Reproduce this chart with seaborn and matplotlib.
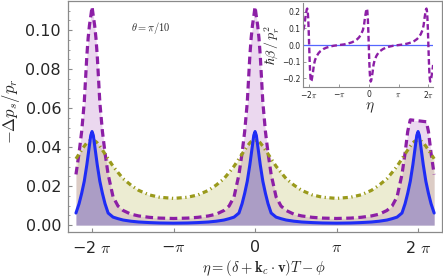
import numpy as np
import matplotlib
matplotlib.use("Agg")
import matplotlib.pyplot as plt
import seaborn as sns
from matplotlib.ticker import AutoMinorLocator

dist = [0, 0.05, 0.1, 0.15, 0.2, 0.3, 0.4, 0.5, 0.62, 0.81, 1.0, 1.2, 1.5, 1.8, 2.2, 2.6, np.pi]

# -dp_s/p_r read at those distances (same on both sides of every peak)
blue_vals = [0.048, 0.046, 0.041, 0.036, 0.031, 0.0225, 0.0163, 0.011, 0.0062, 0.0041,
             0.0033, 0.0026, 0.0020, 0.0016, 0.0013, 0.0011, 0.0010]
purple_vals = [0.112, 0.107, 0.1025, 0.096, 0.087, 0.063, 0.048, 0.037, 0.026, 0.0145,
               0.0098, 0.0075, 0.0056, 0.0047, 0.0040, 0.0036, 0.0034]
olive_vals = [0.0435, 0.0434, 0.0432, 0.0428, 0.0422, 0.0405, 0.0385, 0.0365, 0.034, 0.0302,
              0.027, 0.0238, 0.0205, 0.0178, 0.0155, 0.0143, 0.0137]

# the purple peak at 2 pi is cut flat in the original (undersampled)
purple_top_dist = [-0.3, 0.32]
purple_top_vals = [0.054, 0.053]

# inset: hbar beta / p_r^2, positive left of a peak, negative right of it
inset_dist = [0, 0.05, 0.1, 0.15, 0.2, 0.25, 0.3, 0.4, 0.5, 0.62, 0.81, 1.0, 1.2, 1.5, 1.8, 2.2, 2.6, np.pi]
inset_vals = [0, 0.09, 0.16, 0.205, 0.22, 0.215, 0.2, 0.165, 0.12, 0.09, 0.065, 0.048,
              0.036, 0.024, 0.016, 0.009, 0.004, 0]

peaks = [-2 * np.pi, 0, 2 * np.pi]
tick_pos = [-2 * np.pi, -np.pi, 0, np.pi, 2 * np.pi]
tick_lab = ["\u22122 $\\pi$", "\u2212$\\pi$", "0", "$\\pi$", "2 $\\pi$"]
tick_lab_in = ["\u22122$\\pi$", "\u2212$\\pi$", "0", "$\\pi$", "2$\\pi$"]


def build(d, v, left_end, right_end, odd=False):
    d = np.asarray(d)
    v = np.asarray(v)
    fd = np.concatenate([-d[::-1], d[1:]])
    fv = np.concatenate([v[::-1], (-v if odd else v)[1:]])
    xs, ys = [], []
    for i, p in enumerate(peaks):
        keep = np.ones(len(fd), bool)
        if i > 0:
            keep[0] = False
        if i == 0:
            keep &= fd >= -left_end
        if i == len(peaks) - 1:
            keep &= fd <= right_end
        xs.append(p + fd[keep])
        ys.append(fv[keep])
    return np.concatenate(xs), np.concatenate(ys)


eta_b, y_b = build(dist, blue_vals, 0.62, 0.62)
eta_o, y_o = build(dist, olive_vals, 0.62, 0.62)
eta_p, y_p = build(dist, purple_vals, 0.62, 0.62)
# flatten purple top at 2 pi
cut = np.abs(eta_p - 2 * np.pi) <= 0.3
eta_p = np.concatenate([eta_p[~cut], 2 * np.pi + np.array(purple_top_dist)])
y_p = np.concatenate([y_p[~cut], purple_top_vals])
order = np.argsort(eta_p)
eta_p, y_p = eta_p[order], y_p[order]

eta_i, y_i = build(inset_dist, inset_vals, 0.66, 0.5, odd=True)

sns.set_style("ticks")
plt.rcParams["mathtext.fontset"] = "cm"
plt.rcParams["font.family"] = ["DejaVu Sans"]

c_blue = "#1f2cf5"
c_purple = "#8c1fa6"
c_olive = "#9a9a1c"
grey = "#8a8a8a"

fig = plt.figure(figsize=(4.43, 2.79), dpi=100)
ax = fig.add_axes([0.1535, 0.168, 0.8445, 0.828])

ax.fill_between(eta_p, 0, y_p, color="#9b3fb0", alpha=0.2, lw=0)
ax.fill_between(eta_o, 0, y_o, color="#a0a020", alpha=0.2, lw=0)
ax.fill_between(eta_b, 0, y_b, color="#3a32c8", alpha=0.3, lw=0)

sns.lineplot(x=eta_p, y=y_p, ax=ax, color=c_purple, lw=2.3, sort=False,
             estimator=None, linestyle=(0, (2.4, 1.4)))
sns.lineplot(x=eta_o, y=y_o, ax=ax, color=c_olive, lw=2.3, sort=False,
             estimator=None, linestyle=(0, (1.6, 1.1, 0.4, 1.1)))
sns.lineplot(x=eta_b, y=y_b, ax=ax, color=c_blue, lw=2.2, sort=False, estimator=None)

ax.set_xlim(-7.21, 7.21)
ax.set_ylim(-0.0036, 0.1149)
ax.set_xticks(tick_pos)
ax.set_xticklabels(tick_lab)
ax.set_yticks([0, 0.02, 0.04, 0.06, 0.08, 0.10])
ax.set_yticklabels(["0.00", "0.02", "0.04", "0.06", "0.08", "0.10"])
ax.yaxis.set_minor_locator(AutoMinorLocator(4))
ax.tick_params(direction="in", length=3, width=0.8, color=grey, labelsize=11.5, pad=5)
ax.tick_params(which="minor", direction="in", length=1.6, width=0.6, color=grey)
ax.tick_params(axis="x", pad=6)
for s in ax.spines.values():
    s.set_color(grey)
    s.set_linewidth(0.9)
ax.set_xlabel("")
ax.set_ylabel("")

fig.text(0.025, 0.6, r"$-\Delta p_s/p_r$", rotation=90, ha="center", va="center", fontsize=12)
fig.text(0.596, 0.04, r"$\eta = (\delta + \mathbf{k}_c\cdot\mathbf{v})T - \phi$",
         ha="center", va="center", fontsize=10.5)
fig.text(0.341, 0.9, r"$\theta = \pi/10$", ha="center", va="center", fontsize=7.5)

# inset
ax_in = fig.add_axes([0.684, 0.688, 0.293, 0.301])
ax_in.patch.set_alpha(0)
ax_in.axhline(0, color="#5566ff", lw=0.9)
sns.lineplot(x=eta_i, y=y_i, ax=ax_in, color=c_purple, lw=1.7, sort=False,
             estimator=None, linestyle=(0, (2.4, 1.3)))
ax_in.set_xlim(-6.93, 6.75)
ax_in.set_ylim(-0.253, 0.253)
ax_in.set_xticks(tick_pos)
ax_in.set_xticklabels(tick_lab_in)
ax_in.set_yticks([-0.2, -0.1, 0, 0.1, 0.2])
ax_in.set_yticklabels(["\u22120.2", "\u22120.1", "0.0", "0.1", "0.2"])
ax_in.tick_params(direction="in", length=2, width=0.6, color=grey, labelsize=5.5, pad=2)
ax_in.spines["top"].set_visible(False)
ax_in.spines["right"].set_visible(False)
for s in ["left", "bottom"]:
    ax_in.spines[s].set_color(grey)
    ax_in.spines[s].set_linewidth(0.8)
ax_in.set_xlabel("")
ax_in.set_ylabel("")
fig.text(0.614, 0.84, r"$\hbar\beta\,/\,p_r^2$", rotation=90, ha="center", va="center", fontsize=10)
fig.text(0.835, 0.613, r"$\eta$", ha="center", va="center", fontsize=11)

fig.savefig("out.png", dpi=100)
